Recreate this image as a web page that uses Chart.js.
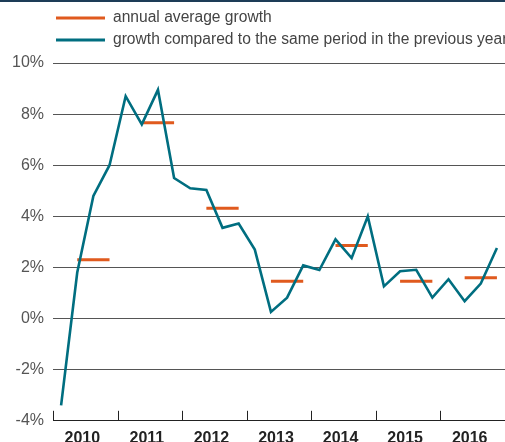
<!DOCTYPE html>
<html>
<head>
<meta charset="utf-8">
<script src="https://cdn.jsdelivr.net/npm/chart.js@4"></script>
<style>
  html, body { margin: 0; padding: 0; background: #fff; }
  #wrap { width: 505px; height: 442px; }
</style>
</head>
<body>
<div id="wrap"><canvas id="growthChart"></canvas></div>
<script>
const years = ['2010', '2011', '2012', '2013', '2014', '2015', '2016'];
const quarters = ['Q1', 'Q2', 'Q3', 'Q4'];
const quarterLabels = years.flatMap(y => quarters.map(q => y + ' ' + q));

// growth compared to the same period in the previous year, by quarter
const quarterlyGrowth = [
    -3.4, 1.8, 4.8, 6.0,
    8.7, 7.6, 8.95, 5.5,
    5.1, 5.03, 3.55, 3.72,
    2.7, 0.26, 0.82, 2.08,
    1.9, 3.1, 2.37, 4.0,
    1.26, 1.85, 1.91, 0.82,
    1.54, 0.68, 1.37, 2.76
];
// annual average growth
const annualAverage = [2.3, 7.66, 4.32, 1.46, 2.86, 1.46, 1.6];
const yTicks = [-4, -2, 0, 2, 4, 6, 8, 10];

// annual average drawn from the 2nd to the 4th quarter of each year
const annualSeries = [];
annualAverage.forEach(v => annualSeries.push(null, v, v, v));

const tealColor = '#006e80';
const orangeColor = '#e05a1e';

const chartDecor = {
    id: 'chartDecor',
    afterDraw(chart) {
        const ctx = chart.ctx;
        const xs = chart.scales.x;
        const area = chart.chartArea;
        ctx.save();
        // top rule
        ctx.fillStyle = '#1d3c57';
        ctx.fillRect(0, 0, chart.width, 2);
        // year tick marks, pointing up from the axis
        ctx.strokeStyle = '#222';
        ctx.lineWidth = 1;
        for (let i = 0; i <= years.length; i++) {
            const px = Math.round(xs.getPixelForValue(i * 4 - 0.5)) + 0.5;
            ctx.beginPath();
            ctx.moveTo(px, area.bottom);
            ctx.lineTo(px, area.bottom - 10);
            ctx.stroke();
        }
        // legend
        ctx.font = '15.6px "Liberation Sans", Arial, sans-serif';
        ctx.textBaseline = 'middle';
        chart.data.datasets.slice().reverse().forEach((ds, i) => {
            const y = 18 + i * 22;
            ctx.strokeStyle = ds.borderColor;
            ctx.lineWidth = 3;
            ctx.beginPath();
            ctx.moveTo(56, y);
            ctx.lineTo(105, y);
            ctx.stroke();
            ctx.fillStyle = '#444';
            ctx.fillText(ds.label, 113, y);
        });
        ctx.restore();
    }
};

const ctx = document.getElementById('growthChart').getContext('2d');
const growthChart = new Chart(ctx, {
    type: 'line',
    data: {
        labels: quarterLabels,
        datasets: [{
            label: 'growth compared to the same period in the previous year',
            data: quarterlyGrowth,
            borderColor: tealColor,
            backgroundColor: tealColor,
            borderWidth: 2.6,
            pointRadius: 0,
            tension: 0,
            order: 1
        }, {
            label: 'annual average growth',
            data: annualSeries,
            borderColor: orangeColor,
            backgroundColor: orangeColor,
            borderWidth: 3,
            pointRadius: 0,
            spanGaps: false,
            order: 2
        }]
    },
    options: {
        responsive: true,
        maintainAspectRatio: false,
        animation: false,
        layout: {
            padding: { top: 63, right: -4, bottom: -14, left: 3 }
        },
        scales: {
            x: {
                type: 'category',
                offset: true,
                display: false
            },
            years: {
                type: 'category',
                labels: years,
                position: 'bottom',
                offset: true,
                grid: { display: false, drawTicks: false },
                border: { display: false },
                ticks: {
                    color: '#222',
                    padding: 8,
                    labelOffset: -3,
                    maxRotation: 0,
                    autoSkip: false,
                    font: { family: '"Liberation Sans", Arial, sans-serif', size: 16, weight: 'bold' }
                }
            },
            y: {
                min: -4,
                max: 10,
                afterBuildTicks: axis => { axis.ticks = yTicks.map(v => ({ value: v })); },
                grid: {
                    drawTicks: false,
                    color: c => c.tick && c.tick.value === -4 ? '#222' : '#555',
                    lineWidth: 1
                },
                border: { display: false },
                ticks: {
                    color: '#555',
                    padding: 9,
                    font: { family: '"Liberation Sans", Arial, sans-serif', size: 16 },
                    callback: v => v + '%'
                }
            }
        },
        plugins: {
            legend: { display: false },
            tooltip: { enabled: false }
        }
    },
    plugins: [chartDecor]
});
</script>
</body>
</html>
